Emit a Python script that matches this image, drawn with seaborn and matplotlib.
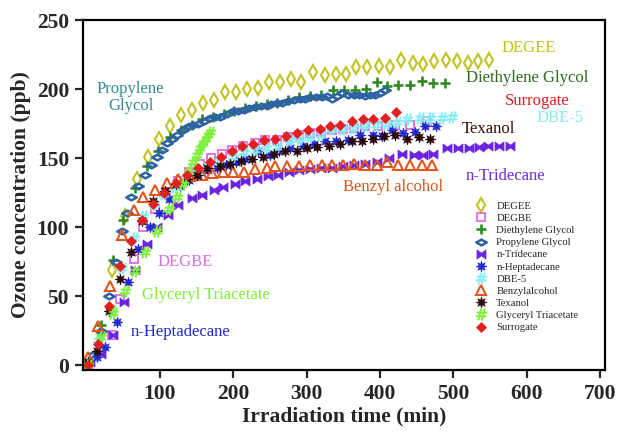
import numpy as np
import pandas as pd
import matplotlib
matplotlib.use("Agg")
import matplotlib.pyplot as plt
import seaborn as sns
from matplotlib.path import Path

# ---- measured ozone time series (x: minutes, y: ppb) ----
degee_t = [3, 20, 34, 52, 68, 83, 99, 114, 128, 143, 159, 174, 189, 204, 219, 234, 249, 264, 279, 293,
           309, 325, 340, 354, 368, 383, 399, 414, 429, 445, 459, 474, 490, 505, 520, 534, 549]
degee_o3 = [3, 23, 69, 108, 135, 151, 164, 173, 181, 185, 190, 192, 198, 198, 200, 201, 205, 205, 207, 205,
            212, 210, 211, 211, 216, 216, 217, 216, 221, 219, 218, 220, 221, 220, 219, 220, 221]

degbe_t = [2, 18, 34, 46, 64, 77, 93, 108, 125, 140, 155, 170, 184, 198, 213, 229, 243, 259, 274, 289,
           305, 320, 334, 349, 364, 380, 398, 420, 441, 464]
degbe_o3 = [0, 10, 22, 48, 77, 100, 113, 125, 133, 140, 146, 150, 153, 156, 159, 161, 163, 163, 165, 167,
            168, 169, 170, 171, 172, 173, 173, 174, 174, 177]

deg_t = [3, 20, 36, 50, 66, 82, 97, 114, 128, 143, 157, 172, 187, 201, 216, 231, 246, 260, 275, 290,
         305, 320, 336, 351, 366, 381, 396, 410, 425, 441, 457, 472, 489]
deg_o3 = [3, 29, 76, 105, 128, 144, 155, 165, 170, 174, 178, 180, 182, 184, 186, 188, 189, 190, 192, 194,
          195, 196, 199, 199, 199, 200, 205, 202, 203, 203, 206, 204, 204]

pg_t = [2, 10, 20, 30, 40, 48, 55, 61, 70, 80, 88, 96, 103, 109, 116, 123, 131, 139, 145, 152,
        160, 168, 175, 182, 191, 200, 207, 214, 222, 230, 238, 246, 252, 259, 267, 275, 283, 291, 298, 305,
        313, 321, 328, 334, 341, 348, 356, 364, 371, 379, 386, 393, 400, 407]
pg_o3 = [2, 8, 25, 50, 75, 97, 110, 122, 130, 138, 145, 151, 156, 161, 164, 167, 170, 173, 174, 175,
         177, 179, 180, 180, 182, 184, 184, 185, 186, 187, 188, 188, 189, 190, 190, 191, 192, 193, 193, 194,
         194, 194, 195, 193, 195, 197, 196, 196, 196, 195, 196, 196, 197, 199]

trid_t = [5, 20, 36, 51, 66, 82, 96, 111, 125, 143, 157, 173, 186, 202, 216, 232, 248, 261, 276, 290,
          305, 320, 335, 350, 365, 380, 396, 412, 430, 446, 459, 473, 491, 506, 521, 535, 548, 562, 577]
trid_o3 = [2, 8, 22, 46, 69, 88, 100, 109, 116, 121, 123, 127, 129, 131, 133, 135, 137, 138, 140, 141,
           142, 143, 143, 144, 145, 146, 147, 150, 153, 152, 152, 153, 157, 157, 157, 158, 159, 159, 159]

hept_t = [3, 14, 25, 41, 57, 70, 86, 98, 112, 127, 140, 152, 165, 178, 190, 203, 216, 234, 250, 263,
          278, 295, 310, 325, 340, 357, 373, 390, 403, 416, 432, 448, 462, 477]
hept_o3 = [1, 6, 13, 31, 60, 84, 100, 110, 120, 130, 134, 138, 141, 143, 145, 147, 149, 155, 152, 155,
           157, 159, 160, 162, 162, 163, 167, 167, 166, 170, 168, 169, 173, 173]

dbe_t = [2, 15, 34, 48, 64, 77, 92, 106, 120, 135, 150, 165, 180, 200, 215, 230, 245, 259, 277, 291,
         305, 320, 334, 350, 365, 380, 395, 409, 423, 437, 455, 468, 484, 498]
dbe_o3 = [4, 18, 40, 70, 92, 108, 117, 124, 129, 135, 140, 145, 148, 151, 154, 156, 157, 158, 163, 164,
          165, 167, 171, 171, 172, 174, 174, 175, 176, 178, 179, 179, 179, 180]

benz_t = [2, 16, 32, 48, 64, 77, 93, 109, 125, 141, 157, 171, 186, 200, 214, 230, 246, 257, 273, 289,
          304, 321, 335, 349, 364, 380, 396, 409, 425, 441, 457, 471]
benz_o3 = [6, 28, 57, 94, 112, 122, 127, 132, 135, 137, 138, 139, 140, 140, 140, 142, 143, 144, 144, 144,
           145, 145, 145, 145, 146, 145, 145, 147, 145, 145, 145, 145]

tex_t = [2, 14, 30, 45, 60, 75, 91, 107, 122, 137, 150, 164, 182, 196, 211, 225, 240, 255, 271, 287,
         300, 314, 330, 346, 362, 376, 391, 406, 421, 437, 453, 468]
tex_o3 = [2, 10, 39, 62, 82, 104, 119, 126, 131, 135, 138, 143, 144, 146, 148, 149, 151, 153, 155, 155,
          157, 158, 159, 160, 162, 162, 164, 166, 167, 164, 165, 164]

gta_t = [2, 20, 36, 52, 66, 80, 96, 112, 123, 131, 138, 145, 150, 155, 159, 163, 166, 168]
gta_o3 = [0, 20, 38, 54, 68, 82, 97, 113, 122, 131, 140, 147, 152, 157, 161, 164, 167, 169]

surr_t = [2, 15, 30, 45, 60, 75, 91, 106, 122, 137, 152, 168, 183, 198, 212, 227, 242, 257, 272, 287,
          302, 318, 332, 346, 362, 377, 391, 407, 422]
surr_o3 = [0, 15, 43, 72, 90, 105, 117, 125, 132, 138, 143, 147, 151, 155, 159, 160, 163, 164, 166, 168,
           170, 171, 173, 174, 177, 178, 178, 179, 183]

x_ticks = [100, 200, 300, 400, 500, 600, 700]
y_ticks = [0, 50, 100, 150, 200, 250]

# ---- custom marker shapes ----
flat_diamond = Path([(-1, 0), (0, 0.55), (1, 0), (0, -0.55), (-1, 0)],
                    [Path.MOVETO, Path.LINETO, Path.LINETO, Path.LINETO, Path.CLOSEPOLY])
bowtie = Path([(-1, -1), (-1, 1), (0, 0.3), (1, 1), (1, -1), (0, -0.3), (-1, -1)],
              [Path.MOVETO, Path.LINETO, Path.LINETO, Path.LINETO, Path.LINETO, Path.LINETO, Path.CLOSEPOLY])
# eight-pointed filled star (asterisk-like)
_ang = np.deg2rad(np.arange(16) * 22.5 + 90)
_rad = np.where(np.arange(16) % 2 == 0, 1.0, 0.42)
_pts = list(zip(_rad * np.cos(_ang), _rad * np.sin(_ang)))
star8 = Path(_pts + [_pts[0]], [Path.MOVETO] + [Path.LINETO] * 15 + [Path.CLOSEPOLY])

# name, times, values, marker, colour, size, filled, edge width
series = [
    ("DEGEE", degee_t, degee_o3, "d", "#c3c323", 7.5, False, 1.5),
    ("DEGBE", degbe_t, degbe_o3, "s", "#dc6ee0", 5.5, False, 1.3),
    ("Diethylene Glycol", deg_t, deg_o3, "+", "#2f8a22", 7.5, False, 1.9),
    ("Propylene Glycol", pg_t, pg_o3, flat_diamond, "#2d62a3", 7.5, False, 1.8),
    ("n-Tridecane", trid_t, trid_o3, bowtie, "#6a24e0", 6.5, True, 0.5),
    ("n-Heptadecane", hept_t, hept_o3, star8, "#2228d2", 7.5, True, 0.6),
    ("DBE-5", dbe_t, dbe_o3, r"$\#$", "#86ecf2", 8, True, 0.6),
    ("Benzylalcohol", benz_t, benz_o3, "^", "#e0561e", 6.5, False, 1.5),
    ("Texanol", tex_t, tex_o3, star8, "#2a0808", 7.5, True, 0.6),
    ("Glyceryl Triacetate", gta_t, gta_o3, r"$\#$", "#7ef03a", 8, True, 0.6),
    ("Surrogate", surr_t, surr_o3, "D", "#e2201f", 5, True, 0.5),
]

sns.set_style("ticks")
plt.rcParams["font.family"] = ["Liberation Serif", "DejaVu Serif"]

fig = plt.figure(figsize=(6.19, 4.33), dpi=100)
ax = fig.add_axes([0.1341, 0.1455, 0.8433, 0.8083])

for name, t, v, mk, col, ms, filled, mew in series:
    df = pd.DataFrame({"t": t, "o3": v})
    sns.lineplot(data=df, x="t", y="o3", ax=ax, estimator=None, sort=False,
                 linestyle="", marker=mk, markersize=ms,
                 markerfacecolor=col if filled else "none",
                 markeredgecolor=col, markeredgewidth=mew,
                 color=col, label=name)

ax.set_xlim(-5, 707)
ax.set_ylim(-3.6, 250)
ax.set_xticks(x_ticks)
ax.set_yticks(y_ticks)
ax.tick_params(direction="out", length=6, width=1.6, labelsize=15.5, pad=4)
for lab in ax.get_xticklabels() + ax.get_yticklabels():
    lab.set_fontweight("bold")
for sp in ax.spines.values():
    sp.set_visible(True)
    sp.set_linewidth(1.6)
    sp.set_color("black")

ax.set_xlabel("Irradiation time (min)", fontsize=15.5, fontweight="bold", labelpad=2)
ax.set_ylabel("Ozone concentration (ppb)", fontsize=15.5, fontweight="bold", labelpad=4)

# series labels next to the curves
labels = [
    ("DEGEE", 566, 230, "#c3c323", "left"),
    ("Diethylene Glycol", 517, 208, "#2f6a1c", "left"),
    ("Surrogate", 570, 191, "#d8201f", "left"),
    ("DBE-5", 613, 179, "#86ecf2", "left"),
    ("Texanol", 512, 171, "#3a0a0a", "left"),
    ("n-Tridecane", 517, 137, "#6a2ae0", "left"),
    ("Benzyl alcohol", 350, 129, "#d9561e", "left"),
    ("Propylene\nGlycol", 60, 194, "#3a8a8c", "center"),
    ("DEGBE", 96, 74.5, "#dc6ee0", "left"),
    ("Glyceryl Triacetate", 75, 50.5, "#7ef03a", "left"),
    ("n-Heptadecane", 60, 24, "#2228d2", "left"),
]
for txt, x, y, col, ha in labels:
    ax.text(x, y, txt, color=col, fontsize=12, ha=ha, va="center", linespacing=1.05)

leg = ax.legend(loc="upper left", bbox_to_anchor=(0.762, 0.545), bbox_transform=fig.transFigure,
                frameon=False, fontsize=7.7, handlelength=1.0, handletextpad=0.9,
                labelspacing=0.25, borderaxespad=0, markerscale=1.0)

fig.savefig("out.png", dpi=100)
